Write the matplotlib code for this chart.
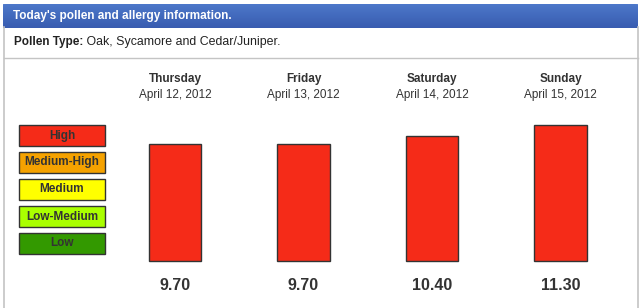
import numpy as np
import matplotlib.pyplot as plt
from matplotlib.patches import FancyBboxPatch
from matplotlib.lines import Line2D
from matplotlib.transforms import blended_transform_factory

plt.rcParams['font.family'] = ['Liberation Sans', 'DejaVu Sans']

# forecast data
days = ["Thursday", "Friday", "Saturday", "Sunday"]
dates = ["April 12, 2012", "April 13, 2012", "April 14, 2012", "April 15, 2012"]
pollen_values = [9.70, 9.70, 10.40, 11.30]

# allergy levels, top to bottom
levels = ["High", "Medium-High", "Medium", "Low-Medium", "Low"]
level_colors = ["#f52b18", "#f5a200", "#ffff00", "#aaff00", "#339900"]

title = "Today's pollen and allergy information."
pollen_type = "Oak, Sycamore and Cedar/Juniper."

W, H = 641, 308
fig = plt.figure(figsize=(W / 100, H / 100), dpi=100)


def fx(px):
    return px / W


def fy(py):
    return 1 - py / H


# panel borders
border = "#c4c4c4"
fig.add_artist(Line2D([fx(3.5), fx(3.5)], [fy(27), 0], color=border, lw=1.2))
fig.add_artist(Line2D([fx(637.5), fx(637.5)], [fy(27), 0], color=border, lw=1.2))
fig.add_artist(Line2D([fx(3.5), fx(637.5)], [fy(57.5), fy(57.5)], color=border, lw=1.0))

# header bar with blue gradient
hax = fig.add_axes([fx(3), fy(28), fx(635), 24 / H])
hax.set_xlim(0, 1)
hax.set_ylim(0, 1)
hax.axis('off')
grad = np.linspace(0, 1, 64).reshape(-1, 1)
top = np.array([0.30, 0.47, 0.79])
bot = np.array([0.22, 0.36, 0.69])
img = top + (bot - top) * grad[:, :, None]
im = hax.imshow(img, extent=[0, 1, 0, 1], aspect='auto', origin='upper')
clip = FancyBboxPatch((0, -1), 1, 2, boxstyle="round,pad=0,rounding_size=0.006",
                      transform=hax.transAxes, facecolor='none', edgecolor='none',
                      mutation_aspect=24 / 635 * 30)
hax.add_patch(clip)
im.set_clip_path(clip)
fig.text(fx(13), fy(16), title, color='white', fontsize=8.5, fontweight='bold',
         va='center', ha='left')

# pollen type line
label = fig.text(fx(14), fy(42.5), "Pollen Type:", color='#222222', fontsize=8.5,
                 fontweight='bold', va='center', ha='left')
plt.annotate(" " + pollen_type, xy=(1, 0.5), xycoords=label, ha='left',
             va='center', fontsize=8.9, color='#222222', annotation_clip=False)

# legend boxes
lax = fig.add_axes([fx(19), fy(257), fx(86), 135 / H])
ypos = np.arange(len(levels))[::-1]
boxes = lax.barh(ypos, [1] * len(levels), left=0, height=21 / 27,
                 color=level_colors, edgecolor='#333333', linewidth=1.0)
for b in boxes:
    b.set_clip_on(False)
for y, name in zip(ypos, levels):
    lax.text(0.5, y, name, ha='center', va='center', fontsize=8.5,
             fontweight='bold', color='#333333')
lax.set_xlim(0, 1)
lax.set_ylim(-0.5, len(levels) - 0.5)
lax.axis('off')

# bars
ax = fig.add_axes([fx(110.75), fy(261), fx(514), 140 / H])
x = np.arange(len(days))
ax.bar(x, pollen_values, width=0.405, color=level_colors[0], edgecolor='#333333',
       linewidth=1.0, clip_on=False)
ax.set_xlim(-0.5, len(days) - 0.5)
ax.set_ylim(0, 140 / 12.05)
ax.axis('off')

tr = blended_transform_factory(ax.transData, fig.transFigure)
for i in x:
    ax.text(i, fy(79), days[i], transform=tr, ha='center', va='center',
            fontsize=8.5, fontweight='bold', color='#333333')
    ax.text(i, fy(94.5), dates[i], transform=tr, ha='center', va='center',
            fontsize=8.5, color='#333333')
    ax.text(i, fy(286), f"{pollen_values[i]:.2f}", transform=tr, ha='center',
            va='center', fontsize=11.5, fontweight='bold', color='#333333')

fig.savefig("out.png", dpi=100)
